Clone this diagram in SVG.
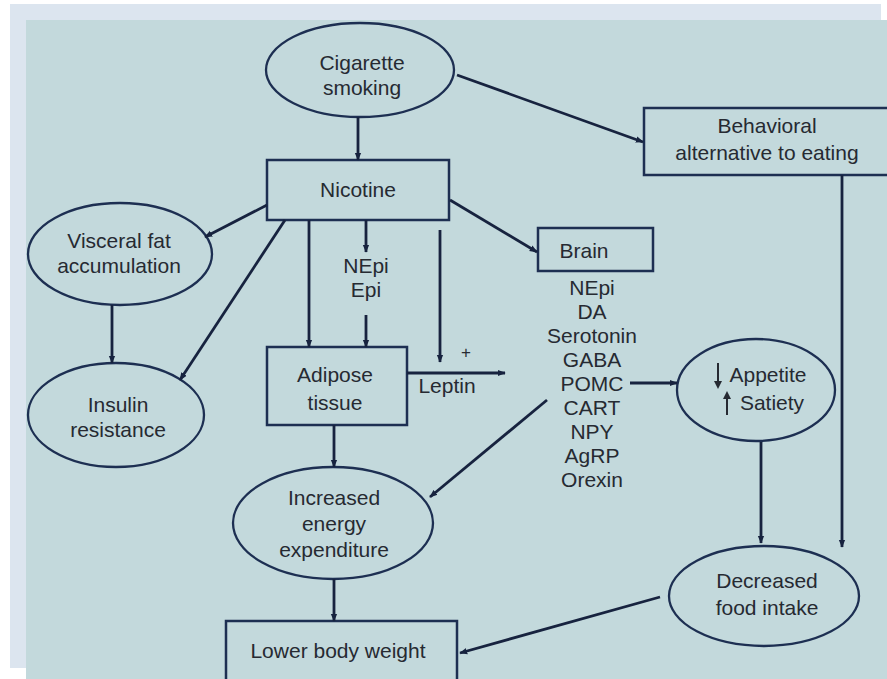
<svg xmlns="http://www.w3.org/2000/svg" width="887" height="679" viewBox="0 0 887 679">
<defs>
<style>
.box{fill:none;stroke:#1d2f52;stroke-width:2.5}
.ell{fill:none;stroke:#1d2f52;stroke-width:2.3}
.edge{fill:none;stroke:#17233f;stroke-width:2.8;marker-end:url(#ah)}
text{font-family:"Liberation Sans",Arial,sans-serif;font-size:21px;fill:#262a32;text-anchor:middle}
</style>
<marker id="ah" viewBox="0 0 10 10" refX="9" refY="5" markerWidth="8" markerHeight="8" markerUnits="userSpaceOnUse" orient="auto">
<path d="M0,1 L10,5 L0,9 z" fill="#17233f"/>
</marker>
</defs>
<rect x="0" y="0" width="887" height="679" fill="#ffffff"/>
<rect x="10" y="4" width="871" height="664" fill="#dce5ef"/>
<rect x="26" y="20" width="861" height="659" fill="#c3d9dc"/>

<g id="cigarette">
<ellipse class="ell" cx="360" cy="70" rx="94" ry="47"/>
<text x="362" y="70">Cigarette</text>
<text x="362" y="95">smoking</text>
</g>
<g id="nicotine">
<rect class="box" x="267" y="160" width="182" height="60"/>
<text x="358" y="197">Nicotine</text>
</g>
<g id="behavioral">
<rect class="box" x="644" y="108" width="260" height="67"/>
<text x="767" y="133">Behavioral</text>
<text x="767" y="160">alternative to eating</text>
</g>
<g id="visceral">
<ellipse class="ell" cx="120" cy="254" rx="92" ry="51"/>
<text x="119" y="248">Visceral fat</text>
<text x="119" y="273">accumulation</text>
</g>
<g id="insulin">
<ellipse class="ell" cx="116" cy="415" rx="88" ry="52"/>
<text x="118" y="412">Insulin</text>
<text x="118" y="437">resistance</text>
</g>
<g id="nepi-epi">
<text x="366" y="273">NEpi</text>
<text x="366" y="297">Epi</text>
</g>
<g id="brain">
<rect class="box" x="538" y="228" width="115" height="43"/>
<text x="584" y="258">Brain</text>
</g>
<g id="brain-list">
<text x="592" y="295">NEpi</text>
<text x="592" y="319">DA</text>
<text x="592" y="343">Serotonin</text>
<text x="592" y="367">GABA</text>
<text x="592" y="391">POMC</text>
<text x="592" y="415">CART</text>
<text x="592" y="439">NPY</text>
<text x="592" y="463">AgRP</text>
<text x="592" y="487">Orexin</text>
</g>
<g id="adipose">
<rect class="box" x="267" y="347" width="140" height="78"/>
<text x="335" y="382">Adipose</text>
<text x="335" y="410">tissue</text>
</g>
<g id="leptin">
<text x="447" y="393">Leptin</text>
<text x="466" y="358" style="font-size:17px">+</text>
</g>
<g id="appetite">
<ellipse class="ell" cx="756" cy="390" rx="79" ry="51"/>
<text x="768" y="382">Appetite</text>
<text x="772" y="410">Satiety</text>
<path d="M718,363 V384" stroke="#262a32" stroke-width="2"/>
<path d="M714,381 L718,389 L722,381 z" fill="#262a32"/>
<path d="M727,415 V396" stroke="#262a32" stroke-width="2"/>
<path d="M723,399 L727,391 L731,399 z" fill="#262a32"/>
</g>
<g id="energy">
<ellipse class="ell" cx="333" cy="523" rx="100" ry="56"/>
<text x="334" y="505">Increased</text>
<text x="334" y="531">energy</text>
<text x="334" y="557">expenditure</text>
</g>
<g id="food">
<ellipse class="ell" cx="764" cy="596" rx="95" ry="50"/>
<text x="767" y="588">Decreased</text>
<text x="767" y="615">food intake</text>
</g>
<g id="weight">
<rect class="box" x="226" y="621" width="231" height="66"/>
<text x="338" y="658">Lower body weight</text>
</g>

<g id="connectors">
<path class="edge" d="M358,117 V160"/>
<path class="edge" d="M457,75 L643,142"/>
<path class="edge" d="M842,175 V547"/>
<path class="edge" d="M267,205 L205,237"/>
<path class="edge" d="M285,220 L180,380"/>
<path class="edge" d="M112,305 V363"/>
<path class="edge" d="M309,220 V347"/>
<path class="edge" d="M366,220 V252"/>
<path class="edge" d="M366,315 V347"/>
<path class="edge" d="M440,230 V362"/>
<path class="edge" d="M407,373 H505"/>
<path class="edge" d="M450,200 L537,252"/>
<path class="edge" d="M630,383 H677"/>
<path class="edge" d="M761,442 V543"/>
<path class="edge" d="M547,400 L430,497"/>
<path class="edge" d="M334,425 V467"/>
<path class="edge" d="M334,579 V621"/>
<path class="edge" d="M660,597 L460,653"/>
</g>
</svg>
